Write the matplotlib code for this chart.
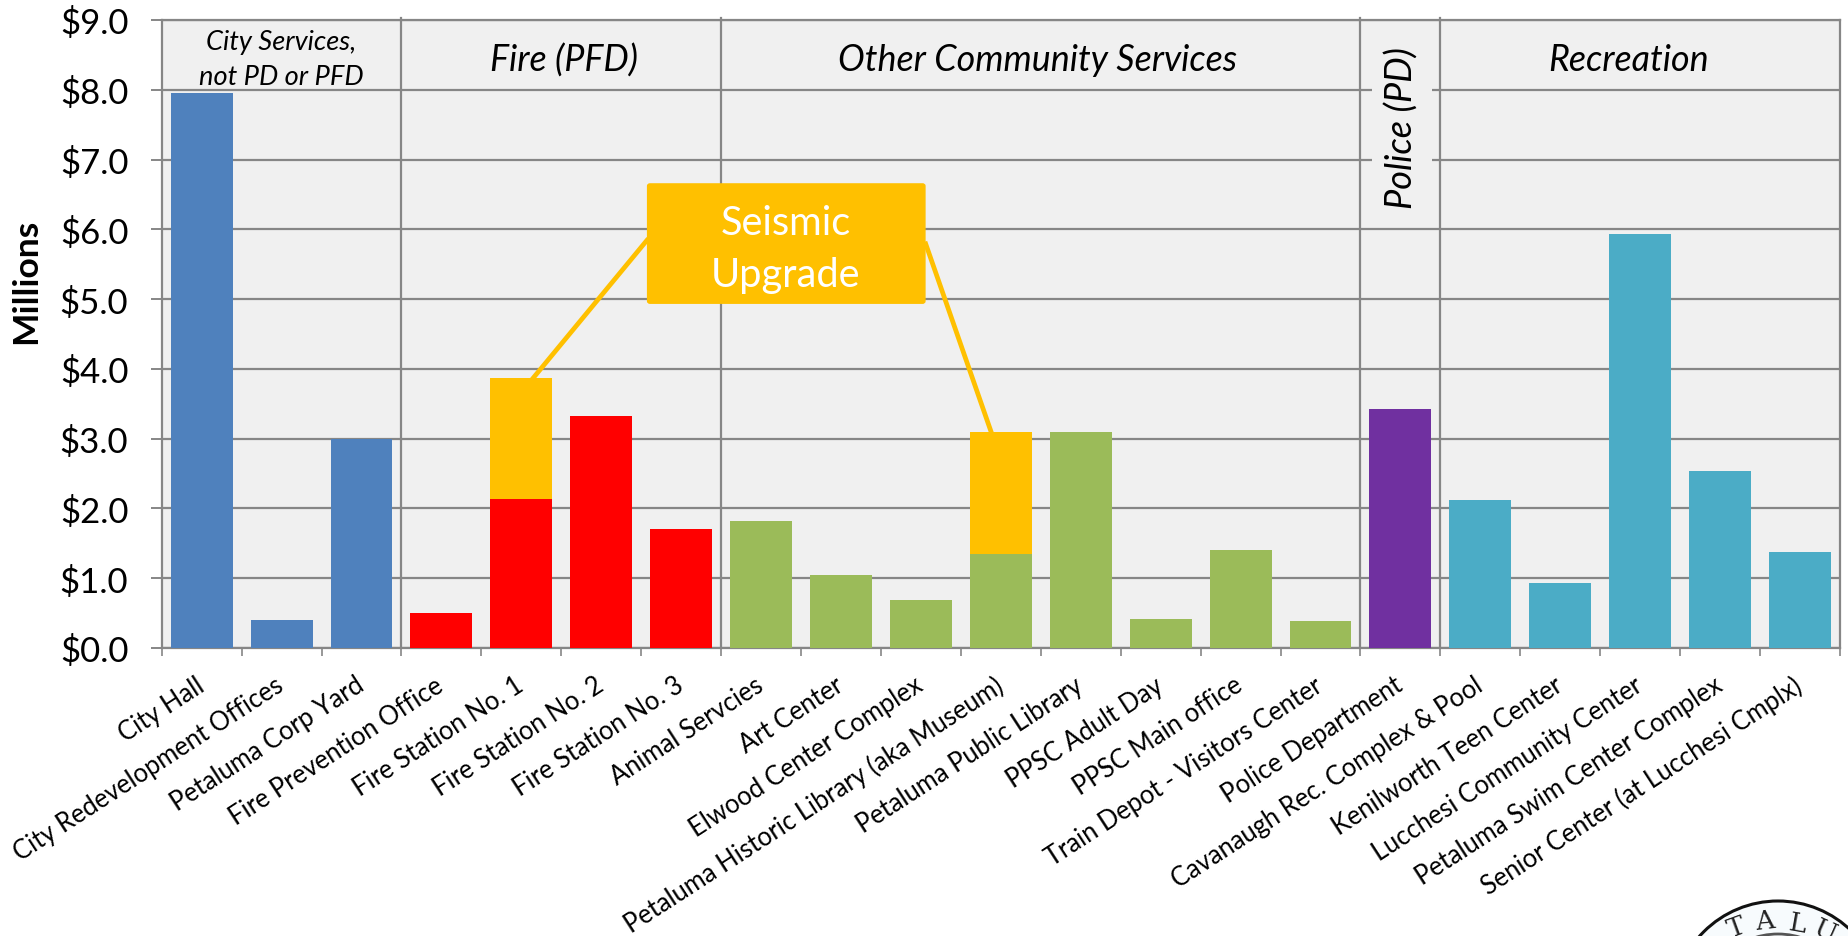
import matplotlib
matplotlib.use("Agg")
import matplotlib.pyplot as plt
from matplotlib.patches import Circle, FancyBboxPatch

plt.rcParams['font.family'] = ['Lato', 'DejaVu Sans']

# data, in millions
categorias = ["City Hall", "City Redevelopment Offices", "Petaluma Corp Yard",
              "Fire Prevention Office", "Fire Station No. 1", "Fire Station No. 2",
              "Fire Station No. 3", "Animal Servcies", "Art Center",
              "Elwood Center Complex", "Petaluma Historic Library (aka Museum)",
              "Petaluma Public Library", "PPSC Adult Day", "PPSC Main office",
              "Train Depot - Visitors Center", "Police Department",
              "Cavanaugh Rec. Complex & Pool", "Kenilworth Teen Center",
              "Lucchesi Community Center", "Petaluma Swim Center Complex",
              "Senior Center (at Lucchesi Cmplx)"]
base = [7.95, 0.40, 3.00, 0.50, 2.13, 3.33, 1.71, 1.82, 1.05, 0.69, 1.34,
        3.09, 0.42, 1.40, 0.39, 3.42, 2.12, 0.93, 5.93, 2.54, 1.37]
seismic = [0, 0, 0, 0, 1.74, 0, 0, 0, 0, 0, 1.75,
           0, 0, 0, 0, 0, 0, 0, 0, 0, 0]
grupos = ["city"] * 3 + ["fire"] * 4 + ["other"] * 8 + ["police"] + ["rec"] * 5
y_ticks = [0, 1, 2, 3, 4, 5, 6, 7, 8, 9]

colores = {"city": "#4F81BD", "fire": "#FF0000", "other": "#9BBB59",
           "police": "#7030A0", "rec": "#4BACC6"}
GOLD = "#FFC000"
GRIS = "#868686"
W, H = 1849, 937

fig = plt.figure(figsize=(W / 100, H / 100), dpi=100)
ax = fig.add_axes([161.7 / W, 1 - 648.8 / H, (1840 - 161.7) / W, (648.8 - 21) / H])
ax.set_facecolor("#F0F0F0")
ax.set_xlim(-0.5, 20.5)
ax.set_ylim(0, 9)

x = list(range(len(categorias)))
ax.bar(x, base, width=0.775, color=[colores[g] for g in grupos], zorder=3)
ax.bar(x, seismic, width=0.775, bottom=base, color=GOLD, zorder=3)

# gridlines and group dividers
ax.yaxis.grid(True, color=GRIS, lw=1.6, zorder=1)
ax.set_axisbelow(True)
for d in [2.5, 6.5, 14.5, 15.5]:
    ax.plot([d, d], [0, 9.03], color=GRIS, lw=1.6, zorder=2, clip_on=False)

for s in ax.spines.values():
    s.set_color(GRIS)
    s.set_linewidth(1.6)
    s.set_zorder(2)

ax.set_yticks(y_ticks)
ax.set_yticklabels([f"${v:.1f}" for v in y_ticks], fontsize=25, color="black")
ax.tick_params(axis='y', length=8, width=1.4, color=GRIS, pad=16)
ax.set_xticks([i - 0.5 for i in range(22)], minor=True)
ax.set_xticks(x)
ax.set_xticklabels(categorias, rotation=33, ha='right', va='center',
                   rotation_mode='anchor', fontsize=18.4)
ax.tick_params(axis='x', which='major', length=0, pad=25)
ax.tick_params(axis='x', which='minor', length=6, width=1.2, color=GRIS)

fig.text(26 / W, 1 - 281 / H, "Millions", rotation=90, fontsize=25.5, fontweight='bold',
         ha='center', va='center')

# group headers
ax.text(1.0, 8.44, "City Services,\nnot PD or PFD", style='italic', fontsize=19.6,
        ha='center', va='center', linespacing=1.5)
ax.text(4.54, 8.43, "Fire (PFD)", style='italic', fontsize=25.8, ha='center', va='center')
ax.text(10.46, 8.43, "Other Community Services", style='italic', fontsize=25.8,
        ha='center', va='center')
ax.text(17.85, 8.43, "Recreation", style='italic', fontsize=25.8, ha='center', va='center')
ax.text(15.02, 7.46, "Police (PD)", style='italic', fontsize=26, rotation=90,
        ha='center', va='center', zorder=2.5,
        bbox=dict(facecolor="#F0F0F0", edgecolor='none', pad=9))

# seismic callout
tope_fs1 = base[4] + seismic[4]
tope_hist = base[10] + seismic[10]
ax.plot([5.57, 4.15], [5.84, tope_fs1], color=GOLD, lw=3.4, zorder=4, clip_on=False)
ax.plot([9.06, 9.88], [5.79, tope_hist], color=GOLD, lw=3.4, zorder=4, clip_on=False)
ax.add_patch(FancyBboxPatch((5.60, 4.96), 3.43, 1.67, mutation_scale=1,
                            boxstyle="round,pad=0.02,rounding_size=0.03",
                            facecolor=GOLD, edgecolor=GOLD, zorder=5))
ax.text(7.31, 5.72, "Seismic\nUpgrade", color="white", fontsize=28.6, ha='center',
        va='center', linespacing=1.5, zorder=6)

# city seal, cut by the bottom edge
sello = fig.add_axes([0, 0, 1, 1])
sello.set_xlim(0, W)
sello.set_ylim(H, 0)
sello.axis('off')
sello.patch.set_alpha(0)
sello.add_patch(Circle((1778, 1007), 105, facecolor="#F7FBFD", edgecolor="#111111", lw=2.2))
sello.add_patch(Circle((1778, 1012), 77, facecolor="none", edgecolor="#555555", lw=2))
for letra, lx, ly, rot in [("T", 1736, 928, 20), ("A", 1765, 922, 6),
                           ("L", 1797, 924, -10), ("U", 1825, 932, -24)]:
    sello.text(lx, ly, letra, fontsize=19, family='DejaVu Serif', rotation=rot,
               ha='center', va='center', color="#222222")

fig.savefig("out.png", dpi=100)
